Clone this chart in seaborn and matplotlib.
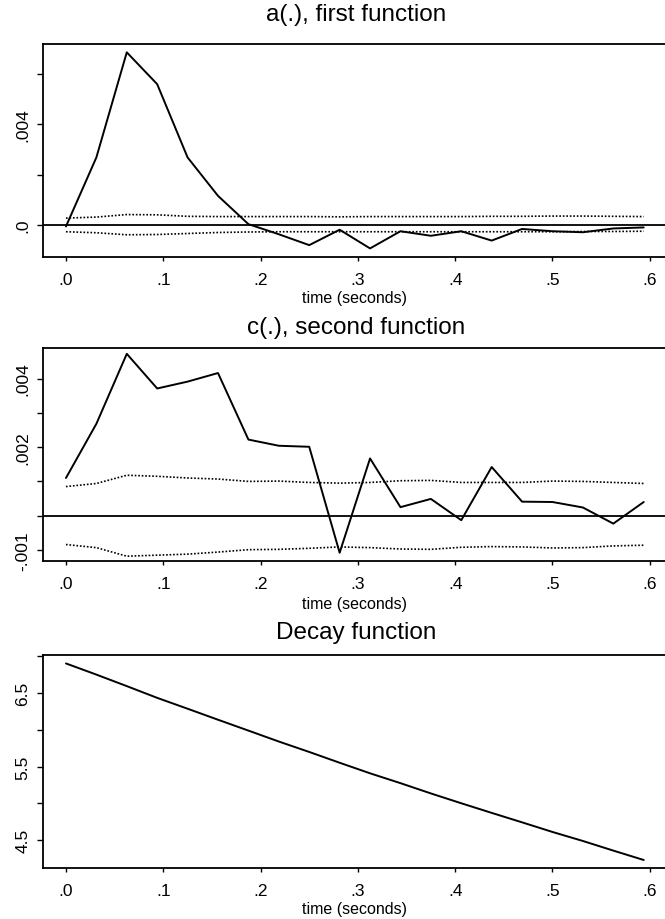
import matplotlib
matplotlib.use("Agg")
import matplotlib.pyplot as plt
import seaborn as sns
import pandas as pd

# ---- data ----
time_s = [0.0, 0.03125, 0.0625, 0.09375, 0.125, 0.15625, 0.1875, 0.21875, 0.25, 0.28125,
          0.3125, 0.34375, 0.375, 0.40625, 0.4375, 0.46875, 0.5, 0.53125, 0.5625, 0.59375]

a_est = [-0.00005, 0.00268, 0.00684, 0.00558, 0.00268, 0.00116, 0.00004, -0.00036, -0.00079, -0.00018,
         -0.00092, -0.00024, -0.00042, -0.00024, -0.00061, -0.00015, -0.00024, -0.00028, -0.00013, -0.00009]
a_upper = [0.00028, 0.00032, 0.00042, 0.00041, 0.00035, 0.00034, 0.00034, 0.00034, 0.00034, 0.00033,
           0.00034, 0.00034, 0.00034, 0.00034, 0.00035, 0.00035, 0.00036, 0.00036, 0.00035, 0.00034]
a_lower = [-0.00026, -0.00030, -0.00038, -0.00037, -0.00033, -0.00029, -0.00027, -0.00026, -0.00026, -0.00026,
           -0.00026, -0.00026, -0.00026, -0.00026, -0.00026, -0.00026, -0.00026, -0.00025, -0.00025, -0.00024]

c_est = [0.00110, 0.00268, 0.00472, 0.00371, 0.00391, 0.00416, 0.00222, 0.00204, 0.00201, -0.00108,
         0.00167, 0.00025, 0.00049, -0.00013, 0.00142, 0.00041, 0.00040, 0.00024, -0.00023, 0.00040]
c_upper = [0.00085, 0.00094, 0.00118, 0.00115, 0.00110, 0.00107, 0.00100, 0.00101, 0.00097, 0.00095,
           0.00097, 0.00102, 0.00103, 0.00097, 0.00097, 0.00097, 0.00101, 0.00100, 0.00097, 0.00094]
c_lower = [-0.00084, -0.00093, -0.00118, -0.00115, -0.00112, -0.00106, -0.00099, -0.00098, -0.00095, -0.00091,
           -0.00093, -0.00097, -0.00098, -0.00092, -0.00090, -0.00091, -0.00094, -0.00093, -0.00088, -0.00086]

decay = [6.905, 6.753, 6.596, 6.436, 6.288, 6.138, 5.990, 5.841, 5.699, 5.552,
         5.408, 5.274, 5.134, 5.000, 4.869, 4.740, 4.609, 4.486, 4.355, 4.227]

titles = ["a(.), first function", "c(.), second function", "Decay function"]
x_label = "time (seconds)"
x_ticks = [0.0, 0.1, 0.2, 0.3, 0.4, 0.5, 0.6]
x_ticklabels = [".0", ".1", ".2", ".3", ".4", ".5", ".6"]

a_yticks = [0.0, 0.002, 0.004, 0.006]
a_yticklabels = [".0", "", ".004", ""]
c_yticks = [-0.001, 0.0, 0.001, 0.002, 0.003, 0.004]
c_yticklabels = ["-.001", "", "", ".002", "", ".004"]
d_yticks = [4.5, 5.0, 5.5, 6.0, 6.5, 7.0]
d_yticklabels = ["4.5", "", "5.5", "", "6.5", ""]

# ---- styling ----
sns.set_style("ticks")
plt.rcParams['font.family'] = ['Liberation Sans', 'DejaVu Sans']

W, H = 665, 920
fig = plt.figure(figsize=(W / 100, H / 100), dpi=100)

def fx(px):
    return px / W

def fy(px):
    return 1 - px / H

left_px, right_px = 43, 668
panels = [(45, 257.5), (349, 562), (656, 869)]
ylims = [(-0.00124, 0.00717), (-0.00132, 0.00489), (4.118, 7.02)]
xlim = (-0.0236, 0.6187)
title_y = [15, 328, 633]
xlabel_y = [298, 605, 910]

df = pd.DataFrame({"t": time_s, "a": a_est, "au": a_upper, "al": a_lower,
                   "c": c_est, "cu": c_upper, "cl": c_lower, "d": decay})

axes = []
for (top, bot) in panels:
    ax = fig.add_axes([fx(left_px), fy(bot), fx(right_px - left_px), (bot - top) / H])
    axes.append(ax)

dot = (0, (1.0, 1.1))
line_kw = dict(color="black", linewidth=1.4)
dot_kw = dict(color="black", linewidth=1.2, linestyle=dot)

# panel a
ax = axes[0]
ax.axhline(0, color="black", linewidth=1.3, zorder=1)
sns.lineplot(data=df, x="t", y="au", ax=ax, **dot_kw)
sns.lineplot(data=df, x="t", y="al", ax=ax, **dot_kw)
sns.lineplot(data=df, x="t", y="a", ax=ax, **line_kw)
ax.set_yticks(a_yticks)
ax.set_yticklabels(a_yticklabels)

# panel c
ax = axes[1]
ax.axhline(0, color="black", linewidth=1.3, zorder=1)
sns.lineplot(data=df, x="t", y="cu", ax=ax, **dot_kw)
sns.lineplot(data=df, x="t", y="cl", ax=ax, **dot_kw)
sns.lineplot(data=df, x="t", y="c", ax=ax, **line_kw)
ax.set_yticks(c_yticks)
ax.set_yticklabels(c_yticklabels)

# decay panel
ax = axes[2]
sns.lineplot(data=df, x="t", y="d", ax=ax, **line_kw)
ax.set_yticks(d_yticks)
ax.set_yticklabels(d_yticklabels)

for i, ax in enumerate(axes):
    ax.set_xlim(*xlim)
    ax.set_ylim(*ylims[i])
    ax.set_xticks(x_ticks)
    ax.set_xticklabels(x_ticklabels)
    ax.set_xlabel("")
    ax.set_ylabel("")
    for s in ["top", "bottom", "left"]:
        ax.spines[s].set_visible(True)
        ax.spines[s].set_linewidth(1.3)
        ax.spines[s].set_color("black")
    ax.spines["right"].set_visible(False)
    ax.tick_params(axis="x", direction="out", length=3, width=1.0, color="black",
                   labelsize=12.5, pad=8, labelcolor="black")
    ax.tick_params(axis="y", direction="out", length=4, width=1.0, color="black",
                   labelsize=12.5, pad=5, labelcolor="black")
    for lbl in ax.get_yticklabels():
        lbl.set_rotation(90)
        lbl.set_va("center")
    fig.text(fx(356), fy(title_y[i]), titles[i], ha="center", va="center",
             fontsize=17.5, color="black")
    fig.text(fx(355), fy(xlabel_y[i]), x_label, ha="center", va="center",
             fontsize=11.5, color="black")

fig.savefig("out.png", dpi=100, facecolor="white")
